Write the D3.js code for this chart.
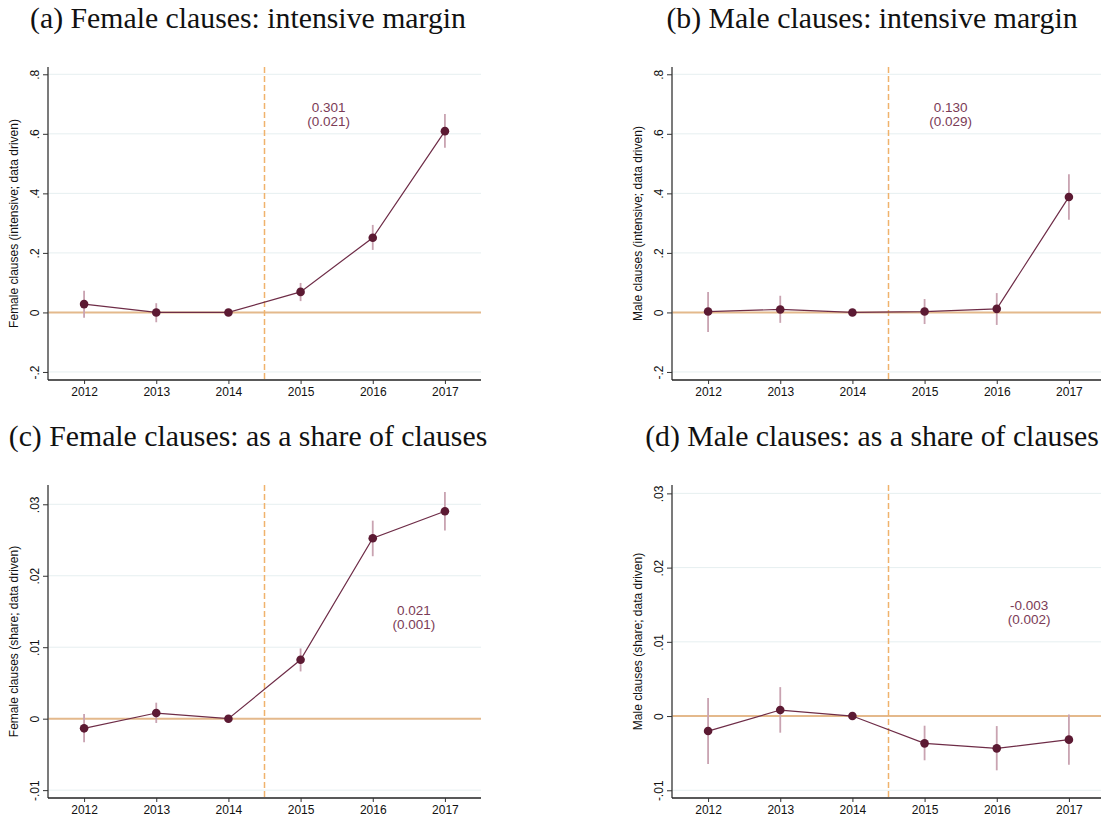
<!DOCTYPE html>
<html>
<head>
<meta charset="utf-8">
<script src="https://cdn.jsdelivr.net/npm/d3@7"></script>
<style>
  html, body { margin: 0; padding: 0; background: #fff; }
  svg { display: block; }
</style>
</head>
<body>
<svg id="chart" width="1101" height="823"></svg>
<script>
// ---------- data ----------
const years = [2012, 2013, 2014, 2015, 2016, 2017];
const treatmentCut = 2014.5;

const panelTitles = [
  "(a) Female clauses: intensive margin",
  "(b) Male clauses: intensive margin",
  "(c) Female clauses: as a share of clauses",
  "(d) Male clauses: as a share of clauses"
];
const yAxisTitles = [
  "Female clauses (intensive; data driven)",
  "Male clauses (intensive; data driven)",
  "Female clauses (share; data driven)",
  "Male clauses (share; data driven)"
];

// (a) female intensive
const femIntCoef = [0.028, 0.000, 0.000, 0.069, 0.251, 0.609];
const femIntLo   = [-0.018, -0.033, 0.000, 0.038, 0.210, 0.553];
const femIntHi   = [0.073, 0.031, 0.000, 0.099, 0.294, 0.667];
// (b) male intensive
const maleIntCoef = [0.003, 0.010, 0.000, 0.003, 0.012, 0.388];
const maleIntLo   = [-0.066, -0.035, 0.000, -0.039, -0.042, 0.311];
const maleIntHi   = [0.069, 0.056, 0.000, 0.045, 0.065, 0.464];
// (c) female share
const femShareCoef = [-0.00135, 0.00079, 0.0, 0.00824, 0.02524, 0.02902];
const femShareLo   = [-0.0033, -0.0006, 0.0, 0.00661, 0.02273, 0.02632];
const femShareHi   = [0.00065, 0.00224, 0.0, 0.00983, 0.02771, 0.03172];
// (d) male share
const maleShareCoef = [-0.00202, 0.00081, 0.0, -0.00368, -0.00435, -0.00318];
const maleShareLo   = [-0.00646, -0.00224, 0.0, -0.00596, -0.00731, -0.00655];
const maleShareHi   = [0.00242, 0.0039, 0.0, -0.0013, -0.00135, 0.00022];

// y ticks and labels
const intTicks = [-0.2, 0, 0.2, 0.4, 0.6, 0.8];
const intTickLabels = ["-.2", "0", ".2", ".4", ".6", ".8"];
const shareTicks = [-0.01, 0, 0.01, 0.02, 0.03];
const shareTickLabels = ["-.01", "0", ".01", ".02", ".03"];

// y ranges of each panel
const intDomain = [-0.227, 0.8245];
const femShareDomain = [-0.0111, 0.0327];
const maleShareDomain = [-0.01104, 0.03113];

// pooled post-period estimates (annotations)
const annotCoef = ["0.301", "0.130", "0.021", "-0.003"];
const annotSE   = ["(0.021)", "(0.029)", "(0.001)", "(0.002)"];
const annotX    = [2015.39, 2015.36, 2016.57, 2016.45];
const annotY    = [0.666, 0.668, 0.01429, 0.0140];

// ---------- build panels ----------
const panels = [
  { coef: femIntCoef, lo: femIntLo, hi: femIntHi, domain: intDomain, ticks: intTicks, tickLabels: intTickLabels },
  { coef: maleIntCoef, lo: maleIntLo, hi: maleIntHi, domain: intDomain, ticks: intTicks, tickLabels: intTickLabels },
  { coef: femShareCoef, lo: femShareLo, hi: femShareHi, domain: femShareDomain, ticks: shareTicks, tickLabels: shareTickLabels },
  { coef: maleShareCoef, lo: maleShareLo, hi: maleShareHi, domain: maleShareDomain, ticks: shareTicks, tickLabels: shareTickLabels }
];

const svg = d3.select("#chart");
const colOffset = [0, 624];
const rowOffset = [0, 418];
const plotLeft = 48, plotRight = 481, plotTop = 67, plotBottom = 380;

const col = {
  grid: "#e6eff0",
  zero: "#e4b98c",
  dash: "#f0b26c",
  line: "#6e2c47",
  dot: "#5c1a33",
  ci: "#c9a3b1",
  annot: "#7b3b56",
  yaxis: "#5a5a5a",
  xaxis: "#222"
};

const sansFont = "'Liberation Sans', Arial, sans-serif";
const serifFont = "'Liberation Serif', 'Times New Roman', serif";

panels.forEach((p, i) => {
  const dx = colOffset[i % 2];
  const dy = rowOffset[Math.floor(i / 2)];
  const g = svg.append("g").attr("transform", `translate(${dx},${dy})`);

  const x = d3.scaleLinear().domain([2011.5, 2017.5]).range([plotLeft, plotRight]);
  const y = d3.scaleLinear().domain(p.domain).range([plotBottom, plotTop]);

  // title
  g.append("text")
    .attr("class", "ptitle")
    .attr("x", 248).attr("y", 28)
    .attr("text-anchor", "middle")
    .attr("font-family", serifFont)
    .attr("font-size", 24)
    .attr("fill", "#111")
    .text(panelTitles[i]);

  // gridlines
  g.append("g").selectAll("line").data(p.ticks).join("line")
    .attr("x1", plotLeft).attr("x2", plotRight)
    .attr("y1", d => y(d)).attr("y2", d => y(d))
    .attr("stroke", col.grid).attr("stroke-width", 1);

  // zero reference line
  g.append("line")
    .attr("x1", plotLeft).attr("x2", plotRight)
    .attr("y1", y(0)).attr("y2", y(0))
    .attr("stroke", col.zero).attr("stroke-width", 2);

  // vertical dashed line
  g.append("line")
    .attr("x1", x(treatmentCut)).attr("x2", x(treatmentCut))
    .attr("y1", plotTop).attr("y2", plotBottom)
    .attr("stroke", col.dash).attr("stroke-width", 1.5)
    .attr("stroke-dasharray", "6,3");

  // y axis
  const yAxis = d3.axisLeft(y).tickValues(p.ticks).tickSize(5)
    .tickFormat((d, k) => p.tickLabels[k]);
  const ya = g.append("g").attr("transform", `translate(${plotLeft},0)`).call(yAxis);
  ya.select(".domain").attr("stroke", col.yaxis).attr("stroke-width", 1.6)
    .attr("d", `M0,${plotTop}V${plotBottom}`);
  ya.selectAll(".tick line").attr("stroke", "#333").attr("stroke-width", 1);
  ya.selectAll(".tick text")
    .attr("font-family", sansFont).attr("font-size", 12).attr("fill", "#111")
    .attr("x", null)
    .attr("text-anchor", "middle")
    .attr("transform", "translate(-13,0) rotate(-90)")
    .attr("dy", "0.35em")
    .attr("y", 0);

  // x axis
  const xAxis = d3.axisBottom(x).tickValues(years).tickSize(4).tickFormat(d3.format("d"));
  const xa = g.append("g").attr("transform", `translate(0,${plotBottom})`).call(xAxis);
  xa.select(".domain").attr("stroke", col.xaxis).attr("stroke-width", 1.3)
    .attr("d", `M${plotLeft},0H${plotRight}`);
  xa.selectAll(".tick line").attr("stroke", "#333");
  xa.selectAll(".tick text")
    .attr("font-family", sansFont).attr("font-size", 12).attr("fill", "#111")
    .attr("y", 7);

  // y axis title
  g.append("text")
    .attr("transform", `translate(18,${(plotTop + plotBottom) / 2}) rotate(-90)`)
    .attr("text-anchor", "middle")
    .attr("font-family", sansFont).attr("font-size", 12)
    .attr("fill", "#111")
    .text(yAxisTitles[i]);

  const pts = years.map((yr, k) => ({ yr, c: p.coef[k], lo: p.lo[k], hi: p.hi[k] }));

  // confidence intervals
  g.append("g").selectAll("line").data(pts.filter(d => d.hi !== d.lo)).join("line")
    .attr("x1", d => x(d.yr)).attr("x2", d => x(d.yr))
    .attr("y1", d => y(d.lo)).attr("y2", d => y(d.hi))
    .attr("stroke", col.ci).attr("stroke-width", 1.8);

  // connecting line
  g.append("path").datum(pts)
    .attr("d", d3.line().x(d => x(d.yr)).y(d => y(d.c)))
    .attr("fill", "none").attr("stroke", col.line).attr("stroke-width", 1.2);

  // points
  g.append("g").selectAll("circle").data(pts).join("circle")
    .attr("cx", d => x(d.yr)).attr("cy", d => y(d.c)).attr("r", 4.3)
    .attr("fill", col.dot);

  // annotation
  const at = g.append("text")
    .attr("text-anchor", "middle")
    .attr("font-family", sansFont).attr("font-size", 13.5)
    .attr("fill", col.annot);
  at.append("tspan").attr("x", x(annotX[i])).attr("y", y(annotY[i]) - 2).text(annotCoef[i]);
  at.append("tspan").attr("x", x(annotX[i])).attr("y", y(annotY[i]) + 12).text(annotSE[i]);
});

// fit title font size so panel (a) title spans ~436px like the reference
const titles = svg.selectAll(".ptitle");
const w0 = titles.nodes()[0].getComputedTextLength();
const fs = 24 * 436 / w0;
titles.attr("font-size", fs);
</script>
</body>
</html>
